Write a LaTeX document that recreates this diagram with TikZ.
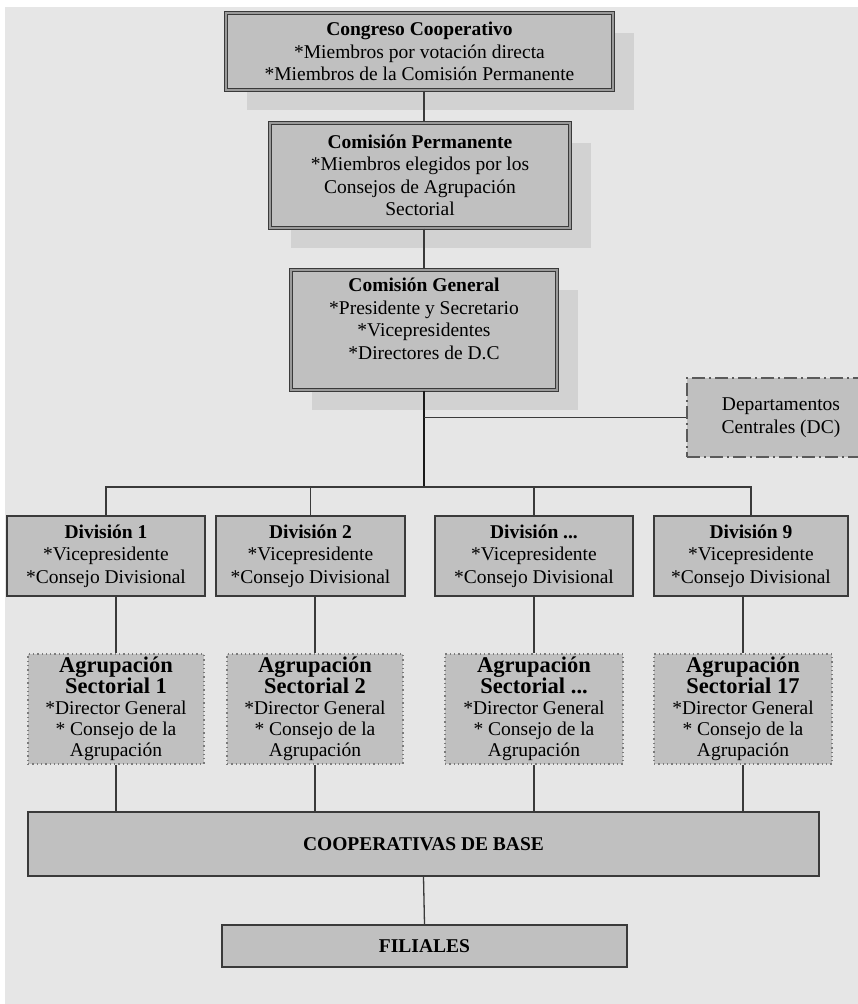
\documentclass[tikz,border=0pt]{standalone}
\usepackage{fontspec}
\setmainfont{Liberation Serif}
\usetikzlibrary{shadows}
\definecolor{bgc}{HTML}{E6E6E6}
\definecolor{boxfill}{HTML}{C0C0C0}
\definecolor{shadowc}{HTML}{D2D2D2}
\definecolor{linec}{HTML}{3A3A3A}
\definecolor{gapc}{HTML}{9A9A9A}
\definecolor{dotc}{HTML}{7A7A7A}
\definecolor{dashc}{HTML}{5A5A5A}
\newcommand\fsz{\fontsize{19.5}{22.5}\selectfont}
\newcommand\agt{\fontsize{22.5}{21}\selectfont\bfseries}
\tikzset{
  basebox/.style={fill=boxfill, inner sep=0pt, align=center, font=\fsz},
  dblbox/.style={basebox, draw=linec, line width=1.1pt, double=gapc, double distance=1.6pt,
     drop shadow={shadow xshift=21pt, shadow yshift=-20pt, fill=shadowc, opacity=1, draw=none}},
  divbox/.style={basebox, draw=linec, line width=1.4pt},
  agrbox/.style={basebox, draw=dotc, line width=1.3pt, dash pattern=on 1.3pt off 3pt,
     font=\fontsize{19.5}{21}\selectfont},
  dcbox/.style={basebox, draw=dashc, line width=2pt, dash pattern=on 13pt off 4pt on 2pt off 4pt},
  basebar/.style={basebox, draw=linec, line width=1.6pt},
  conn/.style={draw=linec, line width=1.3pt},
  thickconn/.style={draw=black!90, line width=2.4pt}
}
\begin{document}
\begin{tikzpicture}[x=1pt,y=-1pt]
\useasboundingbox (0,0) rectangle (858,1004);
\fill[bgc] (5,7) rectangle (858,1004);

\coordinate (spine) at (424,0);
\coordinate (bus) at (424,487);

\node[dblbox, minimum width=387pt, minimum height=77pt] (cong) at (419.5,51.5)
  {\textbf{Congreso Cooperativo}\\*Miembros por votación directa\\*Miembros de la Comisión Permanente};
\node[dblbox, minimum width=300pt, minimum height=105pt] (perm) at (420,175.5)
  {\textbf{Comisión Permanente}\\*Miembros elegidos por los\\Consejos de Agrupación\\Sectorial};
\node[dblbox, minimum width=266pt, minimum height=120pt] (gen) at (424,330)
  {\textbf{Comisión General}\\*Presidente y Secretario\\*Vicepresidentes\\*Directores de D.C\\\mbox{}};
\node[dcbox, minimum width=188pt, minimum height=79pt] (dc) at (781,417.5)
  {Departamentos\\Centrales (DC)\hspace{8pt}};

\node[divbox, minimum width=198pt, minimum height=80pt] (div1) at (106,556)
  {\textbf{División 1}\\*Vicepresidente\\*Consejo Divisional};
\node[divbox, minimum width=189pt, minimum height=80pt] (div2) at (310.5,556)
  {\textbf{División 2}\\*Vicepresidente\\*Consejo Divisional};
\node[divbox, minimum width=198pt, minimum height=80pt] (div3) at (534,556)
  {\textbf{División ...}\\*Vicepresidente\\*Consejo Divisional};
\node[divbox, minimum width=194pt, minimum height=80pt] (div4) at (751,556)
  {\textbf{División 9}\\*Vicepresidente\\*Consejo Divisional};

\node[agrbox, minimum width=176pt, minimum height=110pt] (agr1) at (116,709)
  {{\agt Agrupación}\\{\agt Sectorial 1}\\*Director General\\* Consejo de la\\Agrupación};
\node[agrbox, minimum width=176pt, minimum height=110pt] (agr2) at (315,709)
  {{\agt Agrupación}\\{\agt Sectorial 2}\\*Director General\\* Consejo de la\\Agrupación};
\node[agrbox, minimum width=178pt, minimum height=110pt] (agr3) at (534,709)
  {{\agt Agrupación}\\{\agt Sectorial ...}\\*Director General\\* Consejo de la\\Agrupación};
\node[agrbox, minimum width=178pt, minimum height=110pt] (agr4) at (743,709)
  {{\agt Agrupación}\\{\agt Sectorial 17}\\*Director General\\* Consejo de la\\Agrupación};

\node[basebar, minimum width=791pt, minimum height=64pt] (coop) at (423.5,844)
  {\textbf{COOPERATIVAS DE BASE}};
\node[basebar, minimum width=405pt, minimum height=42pt] (fil) at (424.5,946)
  {\textbf{FILIALES}};

% connectors
\draw[conn] (cong.south -| spine) -- (perm.north -| spine);
\draw[conn] (perm.south -| spine) -- (gen.north -| spine);
\draw[thickconn] (gen.south -| spine) -- (bus);
\draw[conn] (spine |- dc.west) -- (dc.west);
\draw[conn] (div1.north) -- (div1.north |- bus) -- (div4.north |- bus) -- (div4.north);
\draw[conn] (div2.north) -- (div2.north |- bus);
\draw[conn] (div3.north) -- (div3.north |- bus);
\foreach \i in {1,2,3,4}{
  \draw[conn] (div\i.south -| agr\i.north) -- (agr\i.north);
  \draw[conn] (agr\i.south) -- (agr\i.south |- coop.north);
}
\draw[conn] (coop.south) -- (fil.north);
\end{tikzpicture}
\end{document}
